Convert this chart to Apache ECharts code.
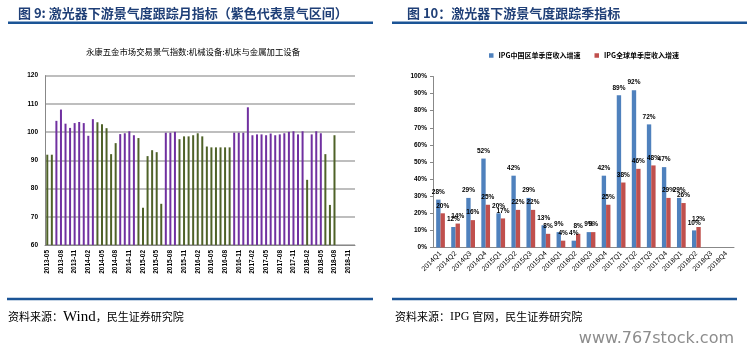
<!DOCTYPE html>
<html>
<head>
<meta charset="utf-8">
<script src="https://cdn.jsdelivr.net/npm/echarts@6/dist/echarts.min.js"></script>
<style>
html,body{margin:0;padding:0;background:#fff}
#main{width:747px;height:354px}
</style>
</head>
<body>
<div id="main"></div>
<script>
    // 月度景气指数 2013-05 起
    var months = [];
    for (var y = 2013; y <= 2018; y++) {
        for (var m = 1; m <= 12; m++) {
            if (y == 2013 && m < 5) continue;
            months.push(y + '-' + (m < 10 ? '0' + m : m));
        }
    }
    var monthVals = [92,92,104,108,103,101.5,103.2,103.6,103.2,98.7,104.6,103.5,102.8,101.4,92.2,96.1,
        99.3,99.6,100.3,98.9,97.9,73.2,91.5,93.6,92.9,74.6,99.8,99.8,100.1,97.5,98.5,98.5,98.9,99.6,98.5,
        94.9,94.6,94.6,94.6,94.6,94.6,99.8,99.8,99.8,108.8,98.9,99.2,99.2,98.9,99.5,98.9,99.2,99.6,100.1,
        100.3,99.2,100.3,83.1,99.2,100.3,99.6,92.2,74.2,98.9];
    // 1 = 紫色(景气区间)
    var boomFlag = [0,0,1,1,1,1,1,1,1,1,1,0,0,0,0,0,
        1,1,1,1,0,0,0,0,0,0,1,1,1,0,0,0,0,0,0,
        0,0,0,0,0,0,1,1,1,1,1,1,1,1,1,1,1,1,1,
        1,1,1,0,1,1,1,0,0,0];

    // 季度收入增速
    var quarters = ['2014Q1','2014Q2','2014Q3','2014Q4','2015Q1','2015Q2','2015Q3','2015Q4',
        '2016Q1','2016Q2','2016Q3','2016Q4','2017Q1','2017Q2','2017Q3','2017Q4',
        '2018Q1','2018Q2','2018Q3','2018Q4'];
    var chinaGrowth = [28,12,29,52,20,42,29,13,9,4,9,42,89,92,72,47,29,10,'-','-'];
    var globalGrowth = [20,14,16,25,17,22,22,8,4,8,9,25,38,46,48,29,26,12,'-','-'];

    var purple = '#7030a0', green = '#4f6228';
    var lblFont = 'Liberation Sans';

    var barData = [];
    for (var i = 0; i < months.length; i++) {
        if (i < monthVals.length) {
            barData.push({value: monthVals[i], itemStyle: {color: boomFlag[i] ? purple : green}});
        } else {
            barData.push('-');
        }
    }

    var myChart = echarts.init(document.getElementById('main'));
    var option = {
        animation: false,
        textStyle: {fontFamily: lblFont},
        legend: {
            data: ['IPG中国区单季度收入增速', 'IPG全球单季度收入增速'],
            left: 484,
            top: 47,
            icon: 'rect',
            itemWidth: 4.5,
            itemHeight: 4.5,
            itemGap: 14,
            textStyle: {fontSize: 7, fontWeight: 'bold', color: '#000', fontFamily: 'Noto Sans CJK SC'}
        },
        grid: [
            {left: 45, top: 75.7, width: 310, height: 169.3},
            {left: 433, top: 76.5, width: 301, height: 171}
        ],
        xAxis: [
            {
                type: 'category',
                gridIndex: 0,
                data: months,
                axisLine: {lineStyle: {color: '#888'}},
                axisTick: {interval: 2, length: 3, lineStyle: {color: '#888'}},
                axisLabel: {interval: 2, rotate: 90, fontSize: 6.5, fontWeight: 'bold', color: '#000', margin: 5}
            },
            {
                type: 'category',
                gridIndex: 1,
                data: quarters,
                axisLine: {lineStyle: {color: '#888'}},
                axisTick: {length: 3, lineStyle: {color: '#888'}},
                axisLabel: {interval: 0, rotate: 45, fontSize: 7, color: '#000', margin: 5}
            }
        ],
        yAxis: [
            {
                type: 'value',
                gridIndex: 0,
                min: 60,
                max: 120,
                interval: 10,
                axisLine: {show: true, lineStyle: {color: '#888'}},
                axisTick: {show: false},
                splitLine: {lineStyle: {color: '#a8a8a8', width: 1.5}},
                axisLabel: {fontSize: 6.5, fontWeight: 'bold', color: '#000', margin: 7}
            },
            {
                type: 'value',
                gridIndex: 1,
                min: 0,
                max: 100,
                interval: 10,
                axisLine: {show: true, lineStyle: {color: '#888'}},
                axisTick: {show: true, length: 3, lineStyle: {color: '#888'}},
                splitLine: {show: false},
                axisLabel: {fontSize: 6.5, fontWeight: 'bold', color: '#000', margin: 6, formatter: '{value}%'}
            }
        ],
        series: [
            {
                name: '景气指数',
                type: 'bar',
                xAxisIndex: 0,
                yAxisIndex: 0,
                barWidth: 2,
                data: barData
            },
            {
                name: 'IPG中国区单季度收入增速',
                type: 'bar',
                xAxisIndex: 1,
                yAxisIndex: 1,
                barGap: '0%',
                barCategoryGap: '42%',
                itemStyle: {color: '#4f81bd'},
                label: {show: true, position: 'top', distance: 4, fontSize: 6.5, fontWeight: 'bold', color: '#000', formatter: '{c}%'},
                data: chinaGrowth
            },
            {
                name: 'IPG全球单季度收入增速',
                type: 'bar',
                xAxisIndex: 1,
                yAxisIndex: 1,
                itemStyle: {color: '#c0504d'},
                label: {show: true, position: 'top', distance: 4, fontSize: 6.5, fontWeight: 'bold', color: '#000', formatter: '{c}%'},
                data: globalGrowth
            }
        ],
        graphic: [
            {type: 'text', x: 18, y: 13, style: {text: '图 9: 激光器下游景气度跟踪月指标（紫色代表景气区间）', fontSize: 13, fontWeight: 'bold', fontFamily: 'Noto Sans CJK SC', fill: '#1f3f77', align: 'left', verticalAlign: 'middle'}},
            {type: 'text', x: 407, y: 13, style: {text: '图 10：激光器下游景气度跟踪季指标', fontSize: 13, fontWeight: 'bold', fontFamily: 'Noto Sans CJK SC', fill: '#1f3f77', align: 'left', verticalAlign: 'middle'}},
            {type: 'line', shape: {x1: 8, y1: 22.7, x2: 373, y2: 22.7}, style: {stroke: '#1b5496', lineWidth: 2.5}},
            {type: 'line', shape: {x1: 392, y1: 22.7, x2: 747, y2: 22.7}, style: {stroke: '#1b5496', lineWidth: 2.5}},
            {type: 'text', x: 193, y: 52, style: {text: '永康五金市场交易景气指数:机械设备:机床与金属加工设备', fontSize: 8.4, fontFamily: 'Noto Sans CJK SC', fill: '#000', align: 'center', verticalAlign: 'middle'}},
            {type: 'line', shape: {x1: 7, y1: 299, x2: 373, y2: 299}, style: {stroke: '#1b5496', lineWidth: 2.5}},
            {type: 'line', shape: {x1: 392, y1: 299, x2: 737, y2: 299}, style: {stroke: '#1b5496', lineWidth: 2.5}},
            {type: 'text', x: 8, y: 317, style: {
                text: '{a|资料来源：}{b|Wind}{a|，民生证券研究院}',
                align: 'left', verticalAlign: 'middle',
                rich: {
                    a: {fontSize: 11, fontFamily: 'Noto Sans CJK SC', fill: '#000'},
                    b: {fontSize: 15, fontFamily: 'Liberation Serif', fill: '#000'}
                }
            }},
            {type: 'text', x: 395, y: 317, style: {
                text: '{a|资料来源：}{b|IPG }{a|官网，民生证券研究院}',
                align: 'left', verticalAlign: 'middle',
                rich: {
                    a: {fontSize: 11, fontFamily: 'Noto Sans CJK SC', fill: '#000'},
                    b: {fontSize: 12, fontFamily: 'Liberation Serif', fill: '#000'}
                }
            }},
            {type: 'text', x: 734, y: 339, style: {text: 'www.767stock.com', fontSize: 16, fontFamily: 'DejaVu Sans', fill: '#8c8c8c', align: 'right', verticalAlign: 'middle'}}
        ]
    };
    myChart.setOption(option);
</script>
</body>
</html>
